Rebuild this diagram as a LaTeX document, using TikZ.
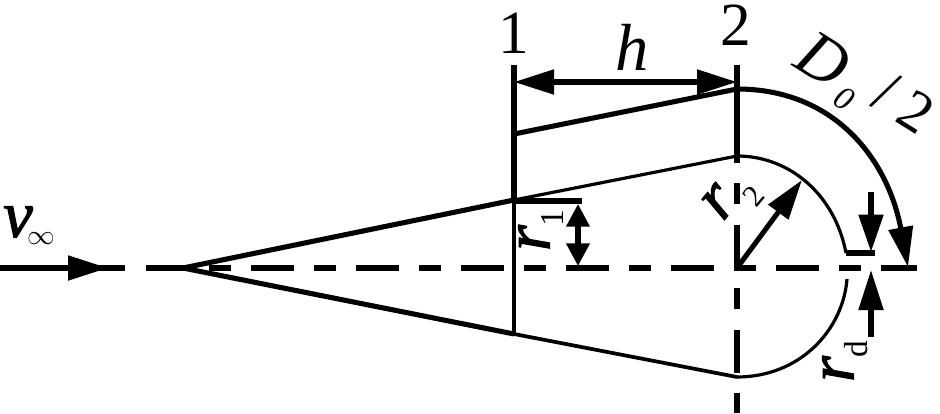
\documentclass[tikz,border=0pt]{standalone}
\usepackage{fontspec}
\setmainfont{Liberation Serif}
\newfontface\heavyit{Liberation Serif Italic}[FakeBold=1.6]
\usetikzlibrary{arrows.meta}
\tikzset{
  thickline/.style={line width=3.8pt},
  thinline/.style={line width=2.4pt},
  axisline/.style={line width=3.8pt,dash pattern=on 32.25pt off 15pt on 16.5pt off 15pt},
  bighead/.style={-{Triangle[length=30pt,width=18pt]}},
  smallhead/.style={{Triangle[length=17pt,width=17pt]}-{Triangle[length=17pt,width=17pt]}},
  lab/.style={inner sep=0pt,font=\fontsize{46}{46}\selectfont},
  itlab/.style={inner sep=0pt,font=\fontsize{50}{50}\selectfont\itshape},
  boldlab/.style={inner sep=0pt,font=\fontsize{50}{50}\selectfont\heavyit},
  sublab/.style={inner sep=0pt,font=\fontsize{25}{25}\selectfont},
}
\begin{document}
\begin{tikzpicture}[x=0.75pt,y=-0.75pt]
\useasboundingbox (0,0) rectangle (940,414);
\coordinate (tip) at (183,268);
\coordinate (upa) at (514,200);
\coordinate (upb) at (737,156);
\coordinate (loa) at (514,334);
\coordinate (lob) at (737,377);
\coordinate (axisc) at (737,268);
\coordinate (outa) at (514,134);
\coordinate (outb) at (737,89);
\coordinate (outc) at (908,267);

% axis
\draw[axisline] (146,268) -- (917,268);
\draw[thickline] (0,268) -- (125,268);
\draw[thickline,bighead] (0,268) -- (108,268);
\draw[line width=3.8pt,dash pattern=on 15.75pt off 15.75pt on 32.25pt off 15pt] (737,183) -- (737,413);

% sections
\draw[thickline] (514,65) -- (514,200);
\draw[line width=2.5pt] (514,200) -- (loa);
\draw[thickline] (737,65) -- (737,163);

% body
\draw[thickline] (outa) -- (outb);
\draw[thickline] (tip) -- (upa);
\draw[thickline] (tip) -- (loa);
\draw[thinline] (upa) -- (upb);
\draw[line width=2.8pt] (loa) -- (lob);
\draw[thinline] (upb) .. controls (790,156) and (835,195) .. (846,253);
\draw[thickline] (846,253) -- (875,253);
\draw[thinline] (lob) .. controls (800,377) and (843,330) .. (847,279);

% dimensions
\draw[thickline,{Triangle[length=30pt,width=18pt]}-{Triangle[length=30pt,width=18pt]}] (514,82) -- (737,82);
\draw[thickline,bighead] (outb) .. controls (835,89) and (888,160) .. (outc);
\draw[line width=4.4pt] (514,201) -- (582,201);
\draw[thickline,smallhead] (578,204) -- (578,266);
\draw[thickline,bighead] (axisc) -- (802,180);
\draw[thickline,-{Triangle[length=28pt,width=18pt]}] (871,192) -- (871,252);
\draw[thickline,bighead] (871,337) -- (871,270);

% labels
\node[lab] (numa) at (514,33) {1};
\node[lab] (numb) at (736,25) {2};
\node[itlab] (nameh) at (632,47) {h};
\node[boldlab] (namev) at (18,222) {v};
\node[sublab,font=\fontsize{20}{20}\selectfont] (nameinf) at (41,239) {$\infty$};
\node[itlab,rotate=-32] (nameD) at (823,60) {D};
\node[sublab,rotate=-32,font=\fontsize{25}{25}\selectfont\itshape] (namezero) at (844,99) {0};
\node[lab,rotate=-27] (nameslash) at (886,92) {/};
\node[lab,rotate=-32,font=\fontsize{44}{44}\selectfont] (namehalf) at (916,112) {2};
\node[boldlab,rotate=90] (namera) at (534,238) {r};
\node[sublab,rotate=90] (subone) at (552,218) {1};
\node[boldlab,rotate=50] (namerb) at (719,202) {r};
\node[sublab,rotate=50,font=\fontsize{23}{23}\selectfont] (subtwo) at (754,196) {2};
\node[boldlab,rotate=90] (namerd) at (838,369) {r};
\node[sublab,rotate=90] (subd) at (856,349) {d};
\end{tikzpicture}
\end{document}
